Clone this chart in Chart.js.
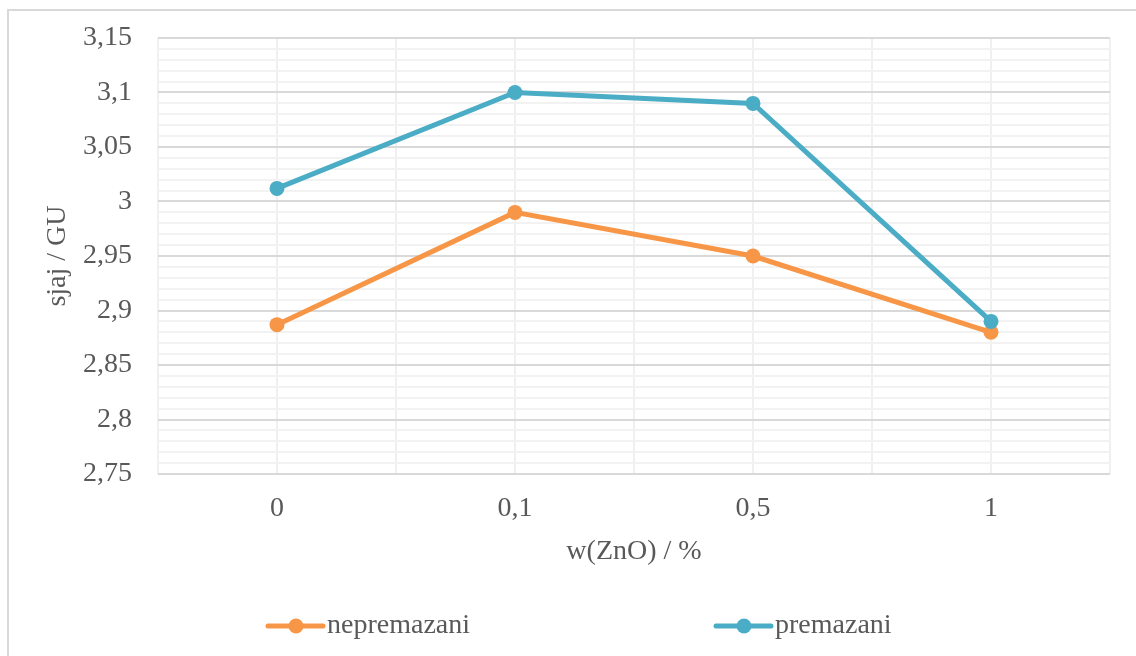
<!DOCTYPE html>
<html>
<head>
<meta charset="utf-8">
<script src="https://cdn.jsdelivr.net/npm/chart.js@4.4.1/dist/chart.umd.min.js"></script>
<style>
    body { margin: 0; background: #fff; }
    #wrap { position: relative; width: 1136px; height: 656px; overflow: hidden; }
    #frame {
        position: absolute; left: 7px; top: 9px; width: 1200px; height: 700px;
        border-top: 2px solid #d9d9d9; border-left: 2px solid #d9d9d9;
    }
    canvas { position: absolute; left: 0; top: 0; }
</style>
</head>
<body>
<div id="wrap">
    <div id="frame"></div>
    <canvas id="glossChart" width="1136" height="656"></canvas>
</div>
<script>
// Data
const categories = ['0', '0,1', '0,5', '1'];
const nepremazani = [2.887, 2.99, 2.95, 2.88];
const premazani = [3.012, 3.10, 3.09, 2.89];

const TEXT_COLOR = '#595959';
const FONT = 'Liberation Serif, Times New Roman, serif';

// Excel-like legend: line with marker, spread out under the chart
const legendX = [268, 716];
const legendY = 626;

const lineLegend = {
    id: 'lineLegend',
    afterDraw(chart) {
        const ctx = chart.ctx;
        ctx.save();
        chart.data.datasets.forEach((ds, i) => {
            const x = legendX[i];
            ctx.strokeStyle = ds.borderColor;
            ctx.lineWidth = 5;
            ctx.lineCap = 'round';
            ctx.beginPath();
            ctx.moveTo(x, legendY);
            ctx.lineTo(x + 55, legendY);
            ctx.stroke();

            ctx.fillStyle = ds.borderColor;
            ctx.beginPath();
            ctx.arc(x + 28, legendY, 7.5, 0, Math.PI * 2);
            ctx.fill();

            ctx.fillStyle = TEXT_COLOR;
            ctx.font = '28px ' + FONT;
            ctx.textBaseline = 'middle';
            ctx.textAlign = 'left';
            ctx.fillText(ds.label, x + 59, legendY);
        });
        ctx.restore();
    }
};

function toPoints(values) {
    return values.map((v, i) => ({ x: i, y: v }));
}

function isMajor(value) {
    return Math.round(value * 100) % 5 === 0;
}

const ctx = document.getElementById('glossChart');

new Chart(ctx, {
    type: 'line',
    data: {
        datasets: [
            {
                label: 'nepremazani',
                data: toPoints(nepremazani),
                borderColor: '#F79646',
                backgroundColor: '#F79646',
                borderWidth: 5,
                pointRadius: 7.5,
                pointBorderWidth: 0,
                order: 1
            },
            {
                label: 'premazani',
                data: toPoints(premazani),
                borderColor: '#4BACC6',
                backgroundColor: '#4BACC6',
                borderWidth: 5,
                pointRadius: 7.5,
                pointBorderWidth: 0,
                order: 0
            }
        ]
    },
    options: {
        responsive: false,
        animation: false,
        layout: {
            padding: { left: 41, right: 26, top: 38, bottom: 0 }
        },
        plugins: {
            legend: { display: false },
            tooltip: { enabled: false }
        },
        scales: {
            x: {
                type: 'linear',
                min: -0.5,
                max: 3.5,
                border: { display: false },
                grid: {
                    color: '#f0f0f0',
                    lineWidth: 2,
                    drawTicks: false
                },
                ticks: {
                    stepSize: 0.5,
                    autoSkip: false,
                    maxRotation: 0,
                    padding: 18,
                    color: TEXT_COLOR,
                    font: { family: FONT, size: 28 },
                    callback: (value) => Number.isInteger(value) ? categories[value] : ''
                },
                title: {
                    display: true,
                    text: 'w(ZnO) / %',
                    color: TEXT_COLOR,
                    font: { family: FONT, size: 28 },
                    padding: { top: 0, bottom: 88 }
                },
                afterFit: (scale) => { scale.height = 182; }
            },
            y: {
                min: 2.75,
                max: 3.15,
                border: { display: false },
                grid: {
                    // invisible tick marks keep the labels away from the plot
                    drawTicks: true,
                    tickLength: 26,
                    tickColor: 'transparent',
                    lineWidth: 2,
                    color: (c) => isMajor(c.tick.value) ? '#d9d9d9' : '#f2f2f2'
                },
                ticks: {
                    stepSize: 0.01,
                    autoSkip: false,
                    padding: 0,
                    color: TEXT_COLOR,
                    font: { family: FONT, size: 28 },
                    callback: (value) => isMajor(value)
                        ? String(Math.round(value * 100) / 100).replace('.', ',')
                        : ''
                },
                title: {
                    display: true,
                    text: 'sjaj / GU',
                    color: TEXT_COLOR,
                    font: { family: FONT, size: 28 },
                    padding: { top: 0, bottom: 0 }
                },
                afterFit: (scale) => { scale.width = 117; }
            }
        }
    },
    plugins: [lineLegend]
});
</script>
</body>
</html>
